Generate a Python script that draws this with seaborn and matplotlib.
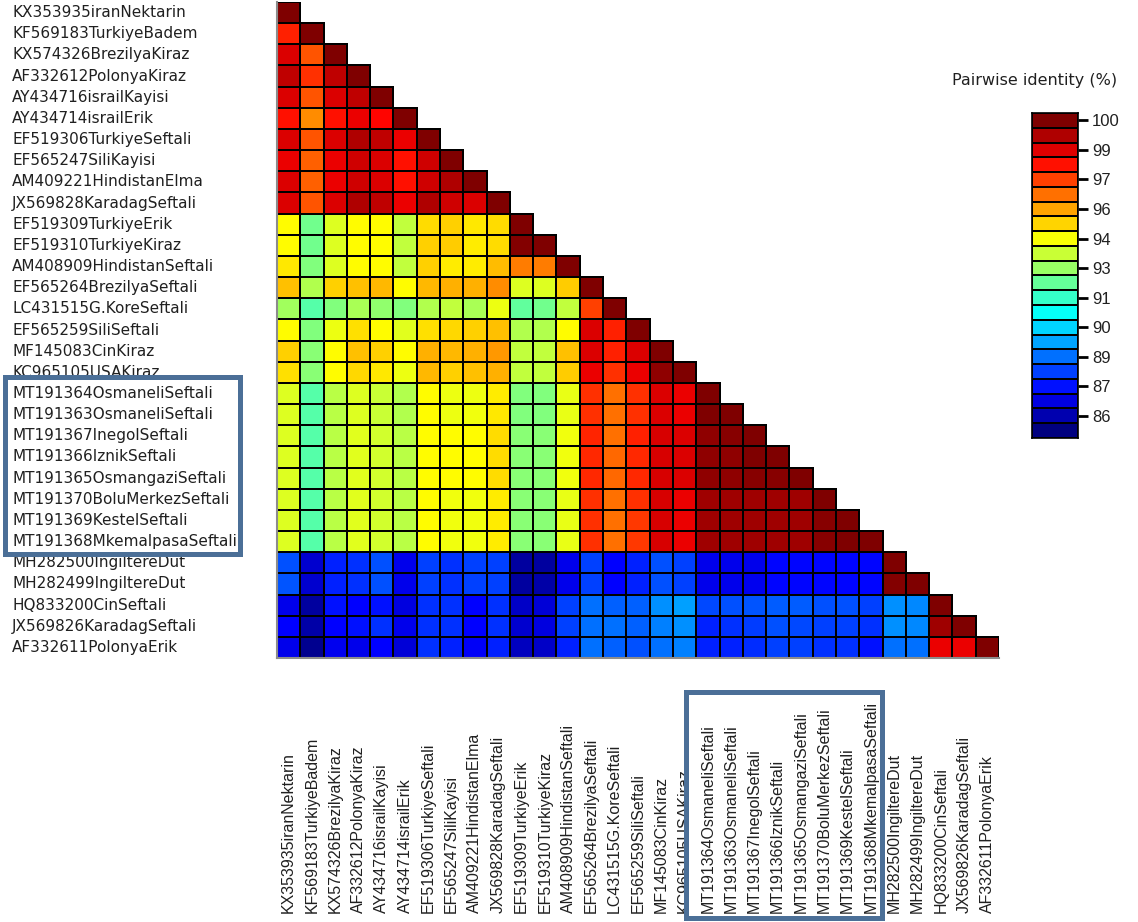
import numpy as np
import pandas as pd
import matplotlib
matplotlib.use("Agg")
import matplotlib.pyplot as plt
import seaborn as sns
from matplotlib.colors import LinearSegmentedColormap
from matplotlib.patches import Rectangle
from matplotlib.transforms import blended_transform_factory

# sequence names (rows top->bottom, columns left->right)
seq_names = [
    "KX353935iranNektarin", "KF569183TurkiyeBadem", "KX574326BrezilyaKiraz",
    "AF332612PolonyaKiraz", "AY434716israilKayisi", "AY434714israilErik",
    "EF519306TurkiyeSeftali", "EF565247SiliKayisi", "AM409221HindistanElma",
    "JX569828KaradagSeftali", "EF519309TurkiyeErik", "EF519310TurkiyeKiraz",
    "AM408909HindistanSeftali", "EF565264BrezilyaSeftali", "LC431515G.KoreSeftali",
    "EF565259SiliSeftali", "MF145083CinKiraz", "KC965105USAKiraz",
    "MT191364OsmaneliSeftali", "MT191363OsmaneliSeftali", "MT191367InegolSeftali",
    "MT191366IznikSeftali", "MT191365OsmangaziSeftali", "MT191370BoluMerkezSeftali",
    "MT191369KestelSeftali", "MT191368MkemalpasaSeftali", "MH282500IngiltereDut",
    "MH282499IngiltereDut", "HQ833200CinSeftali", "JX569826KaradagSeftali",
    "AF332611PolonyaErik",
]

# pairwise identity (%), lower triangle
identity_rows = [
    [100],
    [97.7, 100],
    [98.65, 96.93, 100],
    [99.07, 97.47, 99.07, 100],
    [98.65, 96.93, 98.65, 99.07, 100],
    [97.93, 96.14, 97.93, 98.4, 98.1, 100],
    [98.65, 96.93, 98.65, 99.3, 99.07, 98.4, 100],
    [98.4, 96.78, 98.4, 98.84, 98.65, 97.93, 98.84, 100],
    [98.65, 96.78, 98.4, 98.84, 98.65, 97.93, 98.84, 99.3, 100],
    [98.65, 96.93, 98.65, 99.3, 99.07, 98.4, 99.3, 98.84, 98.65, 100],
    [94.49, 92.43, 94.0, 94.49, 94.49, 93.58, 94.98, 95.17, 94.82, 94.98, 100],
    [94.49, 92.43, 94.0, 94.49, 94.49, 93.58, 95.17, 95.22, 94.73, 94.98, 99.9, 100],
    [94.82, 92.65, 94.0, 94.49, 94.49, 93.58, 95.17, 94.73, 94.73, 95.45, 96.33, 96.33, 100],
    [95.39, 93.35, 95.17, 95.39, 95.51, 94.49, 95.51, 95.63, 95.63, 96.1, 94.0, 94.0, 95.22, 100],
    [93.12, 92.04, 92.65, 93.24, 92.9, 92.65, 93.35, 93.58, 93.24, 94.25, 92.2, 92.43, 93.58,
     97.24, 100],
    [94.49, 92.65, 94.25, 94.93, 94.49, 94.04, 94.93, 95.05, 95.17, 95.39, 93.35, 93.35, 94.49,
     98.65, 97.7, 100],
    [95.17, 92.78, 94.49, 95.39, 95.17, 94.49, 95.63, 95.51, 95.63, 95.97, 93.58, 93.58, 95.39,
     98.65, 97.7, 98.65, 100],
    [94.93, 92.78, 94.49, 95.05, 94.82, 94.25, 95.51, 95.17, 95.39, 95.63, 93.58, 93.58, 95.22,
     98.4, 97.47, 98.4, 99.75, 100],
    [94.0, 92.04, 93.47, 94.0, 93.7, 93.35, 94.49, 94.25, 94.25, 94.73, 92.65, 92.65, 94.16,
     97.47, 96.55, 97.47, 98.65, 98.4, 100],
    [94.0, 92.04, 93.47, 94.0, 93.7, 93.35, 94.49, 94.25, 94.27, 94.82, 92.65, 92.65, 94.16,
     97.47, 96.55, 97.47, 98.65, 98.4, 100, 100],
    [94.0, 92.04, 93.47, 94.04, 93.81, 93.47, 94.49, 94.49, 94.49, 94.98, 92.78, 92.78, 94.27,
     97.6, 96.55, 97.7, 98.72, 98.65, 99.75, 99.87, 100],
    [94.0, 92.04, 93.47, 94.04, 93.81, 93.47, 94.49, 94.49, 94.49, 94.98, 92.78, 92.78, 94.27,
     97.58, 96.66, 97.58, 98.72, 98.65, 99.75, 99.75, 100, 100],
    [94.0, 92.04, 93.47, 94.04, 93.81, 93.47, 94.49, 94.49, 94.49, 94.98, 92.78, 92.78, 94.27,
     97.58, 96.66, 97.58, 98.72, 98.65, 99.75, 99.75, 99.87, 99.87, 100],
    [94.0, 92.04, 93.47, 94.04, 93.81, 93.47, 94.49, 94.27, 94.27, 94.73, 92.78, 92.78, 94.16,
     97.47, 96.55, 97.47, 98.72, 98.4, 99.5, 99.5, 99.5, 99.5, 99.5, 100],
    [94.0, 92.04, 93.47, 94.04, 93.81, 93.47, 94.49, 94.27, 94.27, 94.73, 92.78, 92.78, 94.16,
     97.47, 96.55, 97.35, 98.72, 98.4, 99.5, 99.5, 99.5, 99.5, 99.5, 99.87, 100],
    [94.0, 92.04, 93.47, 94.04, 93.81, 93.47, 94.49, 94.27, 94.27, 94.73, 92.78, 92.78, 94.16,
     97.47, 96.55, 97.35, 98.72, 98.4, 99.5, 99.5, 99.5, 99.5, 99.5, 99.87, 100, 100],
    [88.3, 86.46, 87.6, 87.84, 88.3, 86.9, 88.07, 87.84, 88.07, 88.07, 85.77, 85.77, 86.9,
     88.07, 87.14, 87.6, 88.3, 88.07, 86.9, 86.9, 86.9, 87.25, 87.25, 87.2, 87.2, 87.25, 100],
    [88.35, 86.46, 87.6, 87.84, 88.3, 86.9, 88.07, 87.84, 88.07, 88.07, 85.77, 85.89, 86.9,
     88.07, 87.14, 87.6, 88.3, 88.07, 86.9, 86.9, 86.92, 87.2, 87.2, 87.2, 87.2, 87.2, 99.9, 100],
    [86.9, 85.77, 87.37, 87.14, 87.37, 86.7, 87.84, 87.84, 87.14, 87.84, 86.35, 86.58, 88.07,
     88.76, 88.53, 88.53, 89.22, 89.45, 88.2, 88.3, 88.4, 88.5, 88.5, 88.3, 88.3, 88.07,
     89.22, 89.11, 100],
    [87.14, 85.89, 87.14, 87.37, 87.84, 86.9, 87.84, 87.84, 87.14, 87.84, 86.46, 86.7, 88.07,
     88.76, 88.76, 88.53, 89.0, 89.22, 87.6, 87.84, 88.0, 88.3, 88.2, 88.07, 88.07, 87.84,
     89.22, 89.11, 99.5, 100],
    [86.9, 85.54, 86.92, 86.9, 87.14, 86.58, 87.84, 87.6, 87.04, 87.6, 86.23, 86.35, 87.6,
     88.76, 88.53, 88.3, 88.76, 89.0, 87.6, 87.6, 87.8, 88.07, 88.07, 87.84, 87.84, 87.37,
     88.76, 88.76, 98.4, 98.4, 100],
]

cbar_ticklabels = ["100", "99", "97", "96", "94", "93", "91", "90", "89", "87", "86"]

n = len(seq_names)
mat = np.full((n, n), np.nan)
for i, row in enumerate(identity_rows):
    assert len(row) == i + 1, i
    mat[i, :len(row)] = row
df = pd.DataFrame(mat, index=seq_names, columns=seq_names)

# R-style jet palette
jet = LinearSegmentedColormap.from_list(
    "jet_r_style",
    ["#00007F", "#0000FF", "#007FFF", "#00FFFF", "#7FFF7F",
     "#FFFF00", "#FF7F00", "#FF0000", "#7F0000"])
vmin, vmax = 85.3, 100.0

sns.set_style("white")
W, H = 1138, 922
fig = plt.figure(figsize=(W / 100, H / 100), dpi=100)

ax = fig.add_axes([277 / W, 1 - 658 / H, 722 / W, 656 / H])
sns.heatmap(df, mask=df.isna(), cmap=jet, vmin=vmin, vmax=vmax,
            linewidths=1.2, linecolor="black", cbar=False,
            xticklabels=False, yticklabels=False, ax=ax)
# no outlines on the empty upper triangle
mesh = ax.collections[0]
hidden = df.isna().to_numpy().ravel()
edge_rgba = np.zeros((hidden.size, 4))
edge_rgba[~hidden, 3] = 1.0
mesh.set_edgecolor(edge_rgba)

ax.set_xlabel("")
ax.set_ylabel("")
for side in ["left", "bottom"]:
    ax.spines[side].set_visible(True)
    ax.spines[side].set_color("#8c8c8c")
    ax.spines[side].set_linewidth(1.5)

# row labels, left aligned at the figure edge
ytrans = blended_transform_factory(fig.transFigure, ax.transData)
for i, name in enumerate(seq_names):
    ax.text(12 / W, i + 0.5, name, transform=ytrans, ha="left", va="center",
            fontsize=11, family="DejaVu Sans", color="#202020")

# column labels, vertical, bottom aligned
xtrans = blended_transform_factory(ax.transData, fig.transFigure)
for j, name in enumerate(seq_names):
    ax.text(j + 0.5, 1 - 913 / H, name, transform=xtrans, rotation=90,
            ha="center", va="bottom", fontsize=11.5, family="Liberation Sans",
            color="#202020")

# discrete colour key
cax = fig.add_axes([1032 / W, 1 - 438 / H, 46 / W, 325 / H])
levels = np.linspace(vmax, vmin, 22)
sns.heatmap(pd.DataFrame({"v": levels}), cmap=jet, vmin=vmin, vmax=vmax,
            linewidths=1.2, linecolor="black", cbar=False,
            xticklabels=False, yticklabels=False, ax=cax)
cax.set_xticks([])
cax.set_yticks(np.arange(0, 22, 2) + 0.5)
cax.set_yticklabels(cbar_ticklabels, fontsize=12, family="Liberation Sans",
                    color="#202020")
cax.tick_params(axis="y", left=False, right=True, labelleft=False,
                labelright=True, length=7, width=2, color="black", pad=3)
for s in cax.spines.values():
    s.set_visible(True)
    s.set_color("black")
    s.set_linewidth(1.2)
fig.text(1035 / W, 1 - 80 / H, "Pairwise identity (%)", ha="center",
         va="center", fontsize=11.5, family="DejaVu Sans", color="#202020")

# highlight boxes around the MT1913xx labels
box_color = "#4B6F97"
for x0, y0, x1, y1 in [(5, 377, 240, 554), (686, 692, 882, 918)]:
    fig.patches.append(Rectangle((x0 / W, 1 - y1 / H), (x1 - x0) / W, (y1 - y0) / H,
                                 transform=fig.transFigure, fill=False,
                                 edgecolor=box_color, linewidth=3.6, zorder=10))

fig.savefig("out.png", dpi=100)
